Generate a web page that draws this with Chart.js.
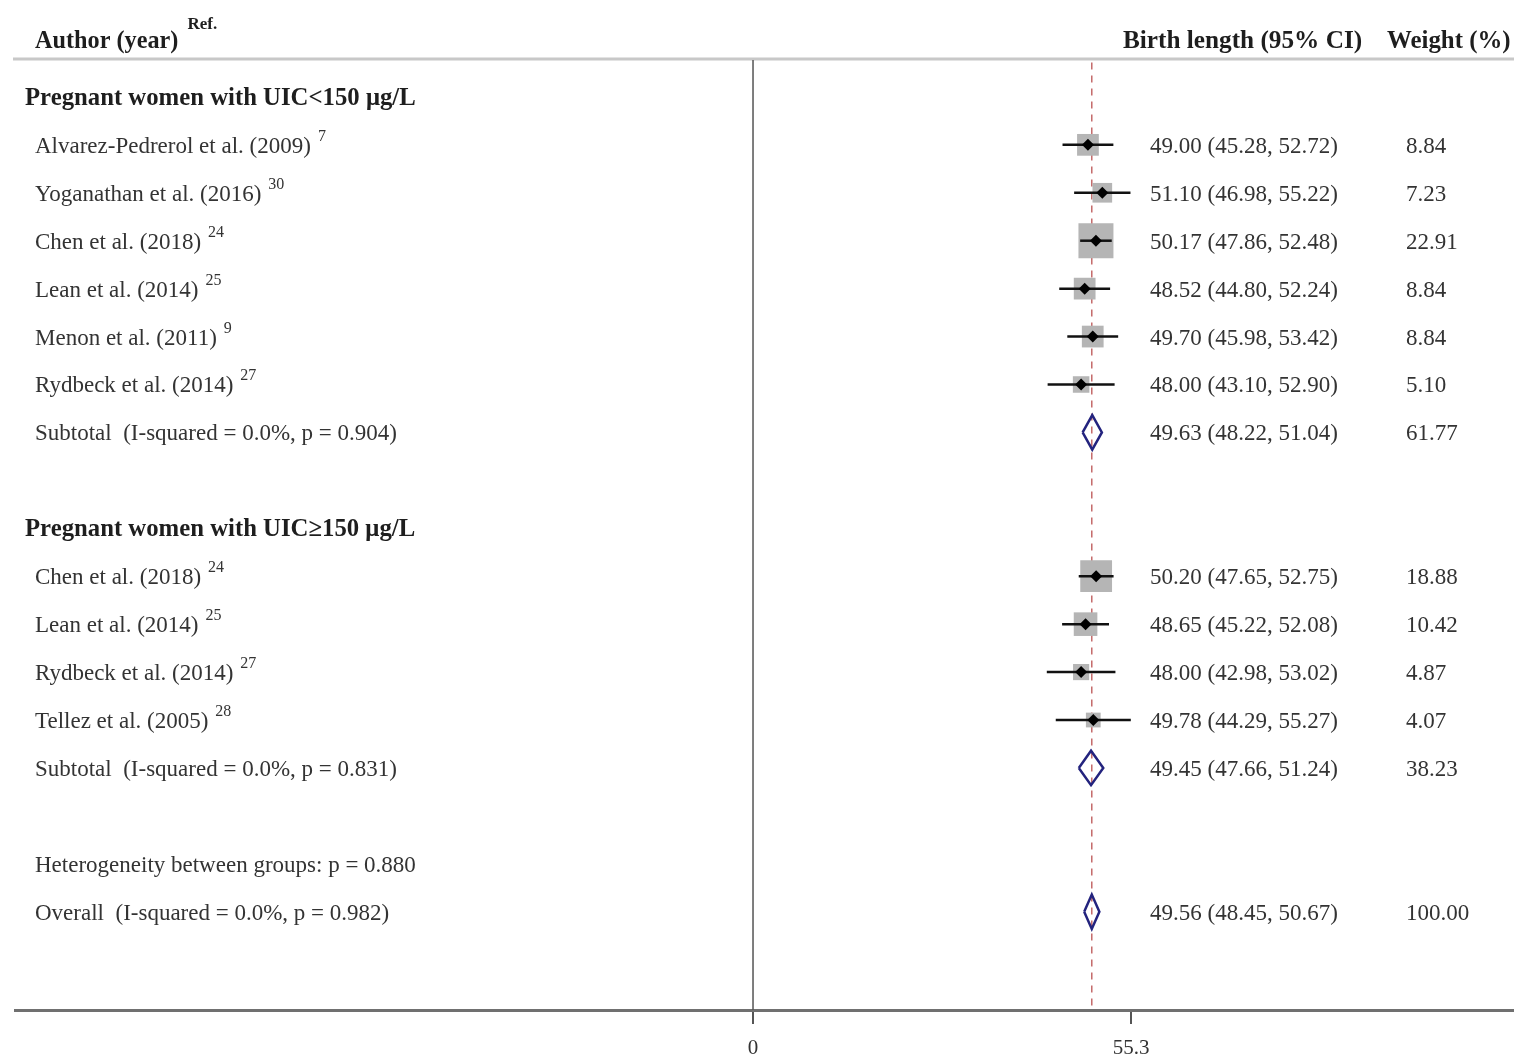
<!DOCTYPE html>
<html>
<head>
<meta charset="utf-8">
<title>Birth length forest plot</title>
<script src="https://cdn.jsdelivr.net/npm/chart.js@4.4.1/dist/chart.umd.min.js"></script>
<style>
  html, body { margin: 0; padding: 0; background: #fff; overflow: hidden; }
  #wrap { width: 1514px; height: 1059px; position: relative; }
  canvas { display: block; }
</style>
</head>
<body>
<div id="wrap"><canvas id="forest"></canvas></div>
<script>
// ─── Data ─────────────────────────────────────
const groupTitles = ["Pregnant women with UIC<150 μg/L", "Pregnant women with UIC≥150 μg/L"];

const group1Labels = ["Alvarez-Pedrerol et al. (2009)", "Yoganathan et al. (2016)", "Chen et al. (2018)", "Lean et al. (2014)", "Menon et al. (2011)", "Rydbeck et al. (2014)"];
const group1Refs = ["7", "30", "24", "25", "9", "27"];
const group1Est = [49.00, 51.10, 50.17, 48.52, 49.70, 48.00];
const group1Lo = [45.28, 46.98, 47.86, 44.80, 45.98, 43.10];
const group1Hi = [52.72, 55.22, 52.48, 52.24, 53.42, 52.90];
const group1Weight = [8.84, 7.23, 22.91, 8.84, 8.84, 5.10];

const group2Labels = ["Chen et al. (2018)", "Lean et al. (2014)", "Rydbeck et al. (2014)", "Tellez et al. (2005)"];
const group2Refs = ["24", "25", "27", "28"];
const group2Est = [50.20, 48.65, 48.00, 49.78];
const group2Lo = [47.65, 45.22, 42.98, 44.29];
const group2Hi = [52.75, 52.08, 53.02, 55.27];
const group2Weight = [18.88, 10.42, 4.87, 4.07];

const pooledLabels = ["Subtotal  (I-squared = 0.0%, p = 0.904)", "Subtotal  (I-squared = 0.0%, p = 0.831)", "Overall  (I-squared = 0.0%, p = 0.982)"];
const pooledEst = [49.63, 49.45, 49.56];
const pooledLo = [48.22, 47.66, 48.45];
const pooledHi = [51.04, 51.24, 50.67];
const pooledWeight = [61.77, 38.23, 100.00];

const heterogeneityText = "Heterogeneity between groups: p = 0.880";
const xTickValues = [0, 55.3];

// ─── Row layout ───────────────────────────────
const rows = [];
let r = 0;
function addGroup(title, labels, refs, est, lo, hi, w, pooledIdx) {
	rows.push({ type: "title", text: title, y: r++ });
	labels.forEach((l, i) => {
		rows.push({ type: "study", text: l, ref: refs[i], est: est[i], lo: lo[i], hi: hi[i], w: w[i], y: r++ });
	});
	rows.push({ type: "pooled", text: pooledLabels[pooledIdx], est: pooledEst[pooledIdx], lo: pooledLo[pooledIdx], hi: pooledHi[pooledIdx], w: pooledWeight[pooledIdx], y: r++ });
	r++; // blank line
}
addGroup(groupTitles[0], group1Labels, group1Refs, group1Est, group1Lo, group1Hi, group1Weight, 0);
addGroup(groupTitles[1], group2Labels, group2Refs, group2Est, group2Lo, group2Hi, group2Weight, 1);
rows.push({ type: "note", text: heterogeneityText, y: r++ });
rows.push({ type: "pooled", text: pooledLabels[2], est: pooledEst[2], lo: pooledLo[2], hi: pooledHi[2], w: pooledWeight[2], y: r++ });

const yMin = -0.77, yMax = 19.05;
const xMin = -107.97, xMax = 111.33;
const overall = pooledEst[2];

const studies = rows.filter((d) => d.type === "study");
const pooled = rows.filter((d) => d.type === "pooled");
const maxW = Math.max(...studies.map((d) => d.w));

// ─── Datasets ─────────────────────────────────
const datasets = [];
datasets.push({
	data: [{ x: 0, y: yMin }, { x: 0, y: yMax }],
	showLine: true, borderColor: "#555", borderWidth: 1.5, pointRadius: 0, order: 20,
});
datasets.push({
	data: [{ x: overall, y: yMin + 0.05 }, { x: overall, y: yMax }],
	showLine: true, borderColor: "#c46a6a", borderWidth: 1.5, borderDash: [7, 6], pointRadius: 0, order: 19,
});
datasets.push({
	data: studies.map((d) => ({ x: d.est, y: d.y })),
	pointStyle: "rect", backgroundColor: "#b5b5b5", borderWidth: 0,
	pointRadius: studies.map((d) => (35 * Math.sqrt(d.w / maxW)) / 1.414), order: 10,
});
studies.forEach((d) => {
	datasets.push({
		data: [{ x: d.lo, y: d.y }, { x: d.hi, y: d.y }],
		showLine: true, borderColor: "#111", borderWidth: 2.5, pointRadius: 0, order: 5,
	});
});
datasets.push({
	data: studies.map((d) => ({ x: d.est, y: d.y })),
	pointStyle: "rectRot", backgroundColor: "#000", borderWidth: 0, pointRadius: 6, order: 1,
});
pooled.forEach((d) => {
	datasets.push({
		data: [
			{ x: d.lo, y: d.y }, { x: d.est, y: d.y - 0.36 }, { x: d.hi, y: d.y },
			{ x: d.est, y: d.y + 0.36 }, { x: d.lo, y: d.y },
		],
		showLine: true, borderColor: "#23237e", borderWidth: 2.5, pointRadius: 0, tension: 0, order: 2,
	});
});

// ─── Text plugin ──────────────────────────────
const serif = "'Liberation Serif', 'Times New Roman', serif";
function txt(ctx, s, x, y, font, color, sx) {
	ctx.save();
	ctx.font = font;
	ctx.fillStyle = color;
	ctx.textBaseline = "alphabetic";
	ctx.translate(x, y);
	ctx.scale(sx, 1);
	ctx.fillText(s, 0, 0);
	const w = ctx.measureText(s).width * sx;
	ctx.restore();
	return w;
}

const forestText = {
	id: "forestText",
	beforeDraw(chart) {
		const { ctx, chartArea } = chart;
		ctx.save();
		ctx.fillStyle = "#fff";
		ctx.fillRect(0, 0, chart.width, chart.height);
		ctx.strokeStyle = "#c8c8c8";
		ctx.lineWidth = 3;
		ctx.beginPath();
		ctx.moveTo(13, chartArea.top - 1);
		ctx.lineTo(chart.width, chartArea.top - 1);
		ctx.stroke();
		ctx.restore();
	},
	afterDraw(chart) {
		const { ctx, chartArea } = chart;
		const ys = chart.scales.y;
		const bold = "bold 25px " + serif;
		const reg = "23px " + serif;
		const num = "23px " + serif;
		const sup = "16px " + serif;
		const dark = "#1e1e1e";
		const grey = "#333";

		// header
		const top = chartArea.top;
		const aw = txt(ctx, "Author (year)", 35, top - 12, bold, dark, 0.97);
		txt(ctx, "Ref.", 35 + aw + 9, top - 31, "bold 17px " + serif, dark, 1);
		txt(ctx, "Birth length (95% CI)", 1123, top - 12, "bold 25.5px " + serif, dark, 0.99);
		txt(ctx, "Weight (%)", 1387, top - 12, "bold 25.5px " + serif, dark, 0.975);

		rows.forEach((d) => {
			const y = ys.getPixelForValue(d.y);
			if (d.type === "title") {
				txt(ctx, d.text, 25, y + 8, bold, dark, 0.99);
				return;
			}
			const w = txt(ctx, d.text, 35, y + 8, reg, grey, 1);
			if (d.ref) txt(ctx, d.ref, 35 + w + 7, y - 4, sup, grey, 1);
			if (d.est !== undefined) {
				const ci = `${d.est.toFixed(2)} (${d.lo.toFixed(2)}, ${d.hi.toFixed(2)})`;
				txt(ctx, ci, 1150, y + 8, num, grey, 1);
				txt(ctx, d.w.toFixed(2), 1406, y + 8, num, grey, 1);
			}
		});
	},
};

// ─── Chart ────────────────────────────────────
new Chart(document.getElementById("forest"), {
	type: "scatter",
	data: { datasets },
	options: {
		responsive: true,
		maintainAspectRatio: false,
		devicePixelRatio: 1,
		animation: false,
		layout: { autoPadding: false, padding: { left: 15, right: 0, top: 60, bottom: 0 } },
		plugins: { legend: { display: false }, tooltip: { enabled: false } },
		scales: {
			x: {
				type: "linear",
				min: xMin,
				max: xMax,
				afterBuildTicks: (s) => { s.ticks = xTickValues.map((v) => ({ value: v })); },
				afterFit: (s) => { s.height = 49; },
				ticks: {
					font: { family: "Liberation Serif", size: 21 },
					color: "#333",
					padding: 12,
					maxRotation: 0,
					autoSkip: false,
					callback: (v) => String(v),
				},
				grid: { drawOnChartArea: false, drawTicks: true, tickLength: 14, color: "#555", lineWidth: 2 },
				border: { display: true, color: "#707070", width: 3 },
			},
			y: { type: "linear", reverse: true, min: yMin, max: yMax, display: false },
		},
	},
	plugins: [forestText],
});
</script>
</body>
</html>
